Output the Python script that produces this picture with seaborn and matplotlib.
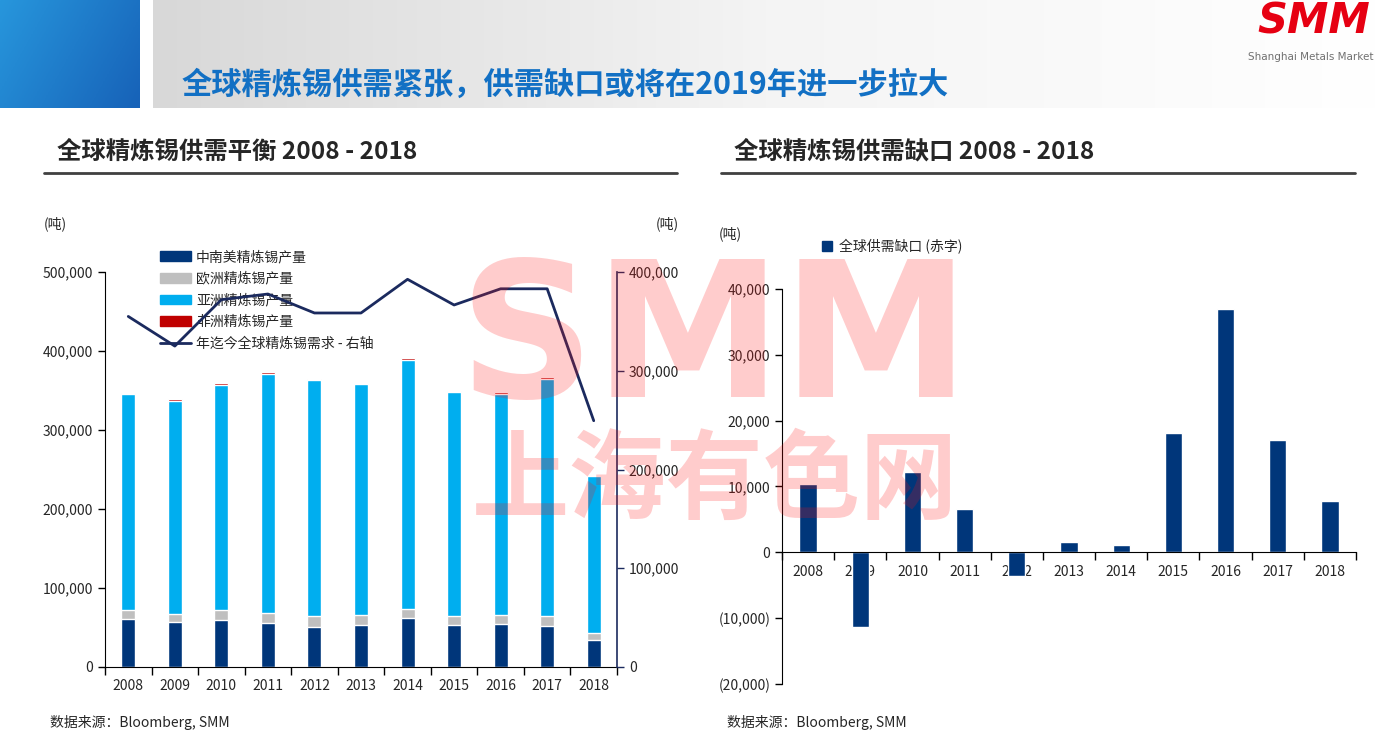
"""
Tin supply/demand dashboard: stacked production bars with demand line, and supply gap bars.
"""
import numpy as np
import pandas as pd
import matplotlib.pyplot as plt
import seaborn as sns
from matplotlib.patches import Patch
from matplotlib.lines import Line2D
from matplotlib.ticker import FuncFormatter
from matplotlib.colors import LinearSegmentedColormap

# ---- data (tonnes) ----
years = ['2008', '2009', '2010', '2011', '2012', '2013', '2014', '2015', '2016', '2017', '2018']
latam = [61000, 57000, 60000, 56000, 51000, 53000, 62000, 53000, 55000, 52000, 34000]
europe = [11500, 10400, 12500, 12600, 14000, 13000, 12000, 12000, 11000, 13000, 9000]
asia = [272500, 269600, 284500, 302400, 298000, 291600, 314600, 283000, 279800, 300000, 198500]
africa = [2400, 2400, 3000, 3000, 1000, 1200, 2400, 1500, 2400, 2200, 1500]
demand = [355000, 325000, 372000, 377700, 358500, 358500, 392600, 366600, 383000, 383000, 249400]
gap = [10350, -11360, 12170, 6570, -3540, 1570, 1110, 18080, 37000, 17000, 7780]

series_names = ['中南美精炼锡产量', '欧洲精炼锡产量', '亚洲精炼锡产量', '非洲精炼锡产量']
demand_name = '年迄今全球精炼锡需求 - 右轴'
gap_name = '全球供需缺口 (赤字)'

c_dark, c_gray, c_blue, c_red = '#00367a', '#bfbfbf', '#00aeef', '#c00000'
c_line = '#1b2a5e'

sns.set_style('ticks')
plt.rcParams['font.family'] = ['Noto Sans CJK SC', 'DejaVu Sans']

W, H = 1380, 740
fig = plt.figure(figsize=(W / 100, H / 100), dpi=100)

def fx(px):
    return px / W

def fy(py):
    return 1 - py / H

# ---- header band ----
ax_blue = fig.add_axes([0, fy(108), fx(140), 108 / H])
gx, gy = np.meshgrid(np.linspace(0, 1, 64), np.linspace(0, 1, 64))
ax_blue.imshow(gx * 0.7 + gy * 0.3, aspect='auto',
               cmap=LinearSegmentedColormap.from_list('b', ['#2796dc', '#1762b8']))
ax_blue.axis('off')

ax_gray = fig.add_axes([fx(153), fy(108), 1 - fx(153), 108 / H])
ax_gray.imshow(np.linspace(0, 1, 256).reshape(1, -1), aspect='auto',
               cmap=LinearSegmentedColormap.from_list('g', ['#d8d8d8', '#f4f4f4', '#ffffff']))
ax_gray.axis('off')

fig.text(fx(182), fy(85), '全球精炼锡供需紧张，供需缺口或将在2019年进一步拉大',
         fontsize=21.8, fontweight='bold', color='#1270c4', va='center')
fig.text(fx(1314), fy(22), 'SMM', fontsize=30, fontweight='heavy', style='italic',
         color='#e60012', ha='center', va='center', family='DejaVu Sans')
fig.text(fx(1311), fy(57), 'Shanghai Metals Market', fontsize=7.5, color='#707070',
         ha='center', va='center', family='DejaVu Sans')

# ---- section titles ----
for x0, x1, title in [(44, 677, '全球精炼锡供需平衡 2008 - 2018'),
                      (721, 1355, '全球精炼锡供需缺口 2008 - 2018')]:
    fig.text(fx(x0 + 13), fy(152), title, fontsize=17.6, fontweight='bold', va='center')
    fig.add_artist(Line2D([fx(x0), fx(x1)], [fy(173), fy(173)], color='#404040', lw=2))

thousands = FuncFormatter(lambda v, p: f'{v:,.0f}')
paren = FuncFormatter(lambda v, p: f'({abs(v):,.0f})' if v < 0 else f'{v:,.0f}')

# ---- left chart: stacked production + demand line ----
ax = fig.add_axes([fx(105), fy(667), fx(617) - fx(105), (667 - 272) / H])
df = pd.DataFrame({'year': years, 'latam': latam, 'europe': europe,
                   'asia': asia, 'africa': africa})
df['c1'] = df['latam']
df['c2'] = df['c1'] + df['europe']
df['c3'] = df['c2'] + df['asia']
df['c4'] = df['c3'] + df['africa']
for col, color in [('c4', c_red), ('c3', c_blue), ('c2', c_gray), ('c1', c_dark)]:
    sns.barplot(data=df, x='year', y=col, color=color, width=0.3, saturation=1, ax=ax)
ax.set_ylim(0, 500000)
ax.set_yticks(range(0, 500001, 100000))
ax.yaxis.set_major_formatter(thousands)
ax.set_xlabel('')
ax.set_ylabel('')
ax.set_xticks(np.arange(-0.5, len(years), 1), minor=True)
ax.tick_params(axis='x', which='major', length=0, pad=9, labelsize=10)
ax.tick_params(axis='x', which='minor', length=6, width=1, color='black')
ax.tick_params(axis='y', length=5, width=1, labelsize=10, color='black')
for s in ['top', 'right']:
    ax.spines[s].set_visible(False)
for s in ['left', 'bottom']:
    ax.spines[s].set_color('black')

ax2 = ax.twinx()
sns.lineplot(x=np.arange(len(years)), y=demand, color=c_line, lw=2, ax=ax2)
ax2.set_ylim(0, 400000)
ax2.set_yticks(range(0, 400001, 100000))
ax2.yaxis.set_major_formatter(thousands)
ax2.tick_params(axis='y', length=5, width=1, labelsize=10, color=c_line)
for s in ['top', 'left', 'bottom']:
    ax2.spines[s].set_visible(False)
ax2.spines['right'].set_color(c_line)
ax2.spines['right'].set_linewidth(1.2)
ax.set_xlim(-0.5, len(years) - 0.5)

handles = [Patch(color=c) for c in (c_dark, c_gray, c_blue, c_red)]
handles.append(Line2D([], [], color=c_line, lw=2))
ax.legend(handles, series_names + [demand_name], loc='upper left',
          bbox_to_anchor=(fx(153), fy(243)), bbox_transform=fig.transFigure,
          frameon=False, fontsize=10, handlelength=2.2, handleheight=0.7,
          labelspacing=0.55, borderpad=0, handletextpad=0.4)

fig.text(fx(44), fy(224), '(吨)', fontsize=10, va='center')
fig.text(fx(656), fy(224), '(吨)', fontsize=10, va='center')

# ---- right chart: supply gap ----
axr = fig.add_axes([fx(782), fy(684), fx(1356) - fx(782), (684 - 289) / H])
sns.barplot(x=years, y=gap, color=c_dark, width=0.33, saturation=1, ax=axr)
axr.set_ylim(-20000, 40000)
axr.set_yticks(range(-20000, 40001, 10000))
axr.yaxis.set_major_formatter(paren)
axr.set_xlim(-0.5, len(years) - 0.5)
axr.spines['bottom'].set_position(('data', 0))
for s in ['top', 'right']:
    axr.spines[s].set_visible(False)
for s in ['left', 'bottom']:
    axr.spines[s].set_color('black')
axr.set_xticks(np.arange(-0.5, len(years), 1), minor=True)
axr.tick_params(axis='x', which='major', length=0, pad=9, labelsize=10)
axr.tick_params(axis='x', which='minor', length=6, width=1, color='black')
axr.tick_params(axis='y', length=5, width=1, labelsize=10, color='black')
axr.legend([Patch(color=c_dark)], [gap_name], loc='upper left',
           bbox_to_anchor=(fx(815), fy(232)), bbox_transform=fig.transFigure,
           frameon=False, fontsize=10, handlelength=0.7, handleheight=0.7,
           borderpad=0, handletextpad=0.5)
fig.text(fx(719), fy(234), '(吨)', fontsize=10, va='center')

# ---- sources ----
fig.text(fx(50), fy(723), '数据来源：Bloomberg, SMM', fontsize=10, va='center')
fig.text(fx(727), fy(723), '数据来源：Bloomberg, SMM', fontsize=10, va='center')

# ---- watermark ----
fig.text(fx(715), fy(345), 'SMM', fontsize=136, fontweight='heavy', color='#ff1010',
         alpha=0.21, ha='center', va='center', family='DejaVu Sans', zorder=10)
fig.text(fx(715), fy(482), '上海有色网', fontsize=70, fontweight='bold', color='#ff1010',
         alpha=0.21, ha='center', va='center', zorder=10)

fig.savefig('out.png', dpi=100)
plt.close(fig)
